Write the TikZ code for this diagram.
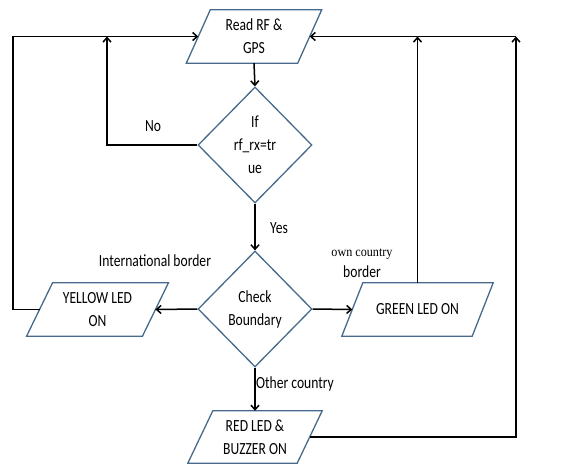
\documentclass[tikz,border=0pt]{standalone}
\usepackage{fontspec}
\setmainfont{Carlito}[FakeStretch=0.8]
\newfontfamily\serifsmall{Liberation Serif}[FakeStretch=0.9]
\usetikzlibrary{shapes.geometric,arrows.meta}
\definecolor{outl}{RGB}{70,105,140}
\begin{document}
\begin{tikzpicture}[x=1pt,y=-1pt,
  txt/.style={font=\fontsize{17}{23}\selectfont, align=center, inner sep=0pt},
  parabox/.style={txt, minimum height=53pt},
  dia/.style={diamond, draw=outl, line width=1.3pt, minimum width=114pt, minimum height=116pt, inner sep=0pt},
  conn/.style={line width=1.5pt, -{Straight Barb[length=4.5pt,width=8pt]}},
  shapeline/.style={draw=outl, line width=1.3pt, line join=miter}]
\useasboundingbox (0,0) rectangle (582,464);

% nodes
\node[parabox, minimum width=111pt] (read) at (254,36.5) {Read RF \&\\GPS};
\node[dia] (d1) at (255,145) {};
\node[txt] (d1t) at (255,145) {If\\rf\_rx=tr\\ue};
\node[dia] (d2) at (255,309) {};
\node[txt] (d2t) at (255,309) {Check\\Boundary};
\node[parabox, minimum width=115.5pt] (yellow) at (97.5,309.5) {YELLOW LED\\ON};
\node[parabox, minimum width=130pt] (green) at (417.5,309.5) {GREEN LED ON};
\node[parabox, minimum width=109pt, minimum height=52pt] (red) at (255,437) {RED LED \&\\BUZZER ON};

% parallelogram outlines
\foreach \n/\s in {read/12, yellow/13, green/10.5, red/12.5}
  \draw[shapeline] ([xshift=\s pt]\n.north west) -- ([xshift=\s pt]\n.north east)
     -- ([xshift=-\s pt]\n.south east) -- ([xshift=-\s pt]\n.south west) -- cycle;

% labels
\node[txt] (lno) at (153,126) {No};
\node[txt] (lyes) at (279,228) {Yes};
\node[txt] (lint) at (155,261) {International border};
\node[font=\serifsmall\fontsize{13.5}{15}\selectfont, inner sep=0pt] (lown) at (362,254) {own country};
\node[txt] (lbord) at (362,272) {border};
\node[txt] (loth) at (295,384) {Other country};

% coordinates
\coordinate (nox) at (107,145);
\coordinate (ylx) at (13,309.5);
\coordinate (ytop) at (13,36.5);
\coordinate (rdx) at (516,437);
\coordinate (rtop) at (516,36.5);

% connectors
\draw[conn] (read.south) -- (d1.north);
\draw[conn] (d1.west) -- (nox) -- (nox |- read.west);
\draw[conn] (d1.south) -- (d2.north);
\draw[conn] (d2.west) -- (yellow.east);
\draw[conn] (d2.east) -- (green.west);
\draw[conn] (d2.south) -- (red.north);
\draw[conn] (yellow.west) -- (ylx) -- (ytop) -- (read.west);
\draw[conn] (green.north) -- (green.north |- read.east);
\draw[conn] (red.east) -- (rdx) -- (rtop);
\draw[conn] (rtop) -- (read.east);
\end{tikzpicture}
\end{document}
